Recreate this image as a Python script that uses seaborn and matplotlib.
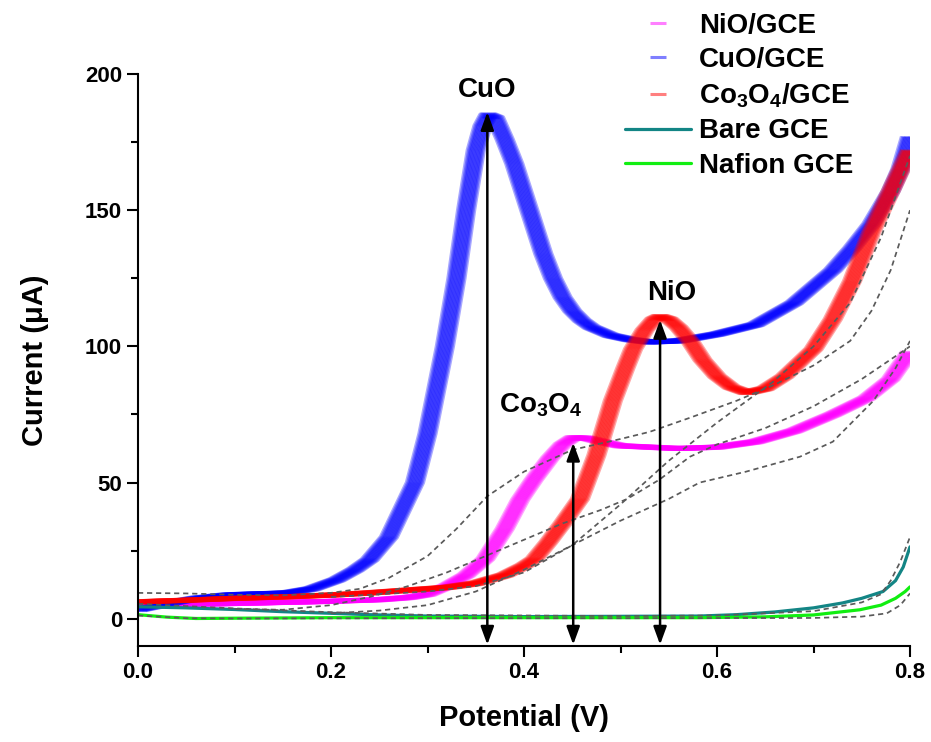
import numpy as np
import matplotlib
matplotlib.use("Agg")
import matplotlib.pyplot as plt
import seaborn as sns
from matplotlib import patheffects as pe
from matplotlib.lines import Line2D
from matplotlib.ticker import MultipleLocator

# ---------------- data ----------------
x_nio = [0, 0.05, 0.1, 0.15, 0.2, 0.25, 0.28, 0.3, 0.32, 0.34, 0.36, 0.38, 0.396, 0.41, 0.427,
         0.44, 0.451, 0.465, 0.48, 0.5, 0.53, 0.56, 0.6, 0.64, 0.68, 0.72, 0.755, 0.78, 0.8]
y_nio = [5.1, 5.3, 5.6, 6.0, 6.4, 7.0, 7.8, 9.0, 12, 16, 22, 33, 43.7, 51, 59,
         64, 66.5, 66.3, 65, 63.5, 63, 62.5, 63, 65, 69, 75, 81, 88, 98]

x_cuo = [0, 0.03, 0.06, 0.095, 0.13, 0.155, 0.18, 0.206, 0.225, 0.24, 0.26, 0.287, 0.3, 0.318,
         0.33, 0.34, 0.35, 0.357, 0.363, 0.37, 0.38, 0.39, 0.40, 0.41, 0.42, 0.43, 0.44, 0.45,
         0.46, 0.47, 0.49, 0.51, 0.53, 0.56, 0.6, 0.64, 0.68, 0.72, 0.74, 0.76, 0.78, 0.79, 0.8]
y_cuo = [3.3, 5.5, 7.5, 8.8, 9.2, 9.5, 11, 14.3, 18, 21.7, 30, 50, 68, 100,
         125, 150, 172, 181, 185, 184, 176, 167, 156, 145, 134, 125, 118, 113,
         109.5, 107, 104, 102.5, 101.6, 102, 104.5, 108, 116, 128, 136, 145, 157, 165, 177]

x_co3o4 = [0, 0.05, 0.1, 0.15, 0.2, 0.24, 0.28, 0.32, 0.35, 0.38, 0.40, 0.411, 0.425, 0.44,
           0.458, 0.475, 0.492, 0.505, 0.513, 0.525, 0.535, 0.541, 0.55, 0.56, 0.572, 0.585,
           0.6, 0.615, 0.631, 0.65, 0.67, 0.7, 0.72, 0.74, 0.76, 0.78, 0.8]
y_co3o4 = [6.2, 6.8, 7.5, 8.0, 8.7, 9.5, 10.5, 11.5, 13, 16, 19.5, 22, 28, 35,
           44, 60, 80, 92, 99, 106, 110, 111, 110, 107, 102, 95,
           89, 85, 83, 84.5, 89, 99, 110, 124, 142, 157, 172]

x_bare = [0, 0.05, 0.1, 0.15, 0.2, 0.24, 0.3, 0.4, 0.5, 0.582, 0.62, 0.66, 0.7, 0.73, 0.75,
          0.772, 0.785, 0.793, 0.8]
y_bare = [4.4, 4.0, 3.4, 2.6, 2.0, 1.5, 1.0, 0.8, 0.9, 1.0, 1.5, 2.5, 4.0, 5.8, 7.5,
          10, 14, 19, 26.4]

x_nafion = [0, 0.03, 0.06, 0.1, 0.2, 0.3, 0.4, 0.5, 0.582, 0.65, 0.7, 0.748, 0.77, 0.785, 0.795, 0.8]
y_nafion = [1.5, 0.6, 0.1, 0.2, 0.4, 0.4, 0.4, 0.4, 0.4, 0.7, 1.4, 3.3, 5, 7.5, 10, 11.7]

# grey dashed reference curves
x_d_bare = [0, 0.1, 0.2, 0.3, 0.5, 0.6, 0.7, 0.75, 0.77, 0.78, 0.79, 0.8]
y_d_bare = [5.5, 3.8, 2.4, 1.4, 1.0, 1.2, 2.8, 6, 9, 14, 21, 30]
x_d_naf = [0, 0.05, 0.1, 0.3, 0.5, 0.7, 0.75, 0.776, 0.79, 0.8]
y_d_naf = [1.2, 0.2, 0.1, 0.2, 0.2, 0.3, 0.8, 2, 5, 9.3]
x_d1 = [0, 0.05, 0.1, 0.15, 0.2, 0.23, 0.26, 0.3, 0.33, 0.362, 0.4, 0.45, 0.5, 0.53, 0.572,
        0.62, 0.66, 0.7, 0.738, 0.76, 0.78, 0.8]
y_d1 = [9.5, 9.3, 8.8, 8.6, 9.5, 11, 15, 23, 33, 45, 54, 62, 66, 68.6, 73.8,
        80, 86, 93, 102, 113, 128, 150]
x_d2 = [0.1, 0.15, 0.2, 0.24, 0.28, 0.32, 0.36, 0.4, 0.44, 0.48, 0.507, 0.54, 0.572, 0.6,
        0.65, 0.7, 0.75, 0.8]
y_d2 = [3.6, 3.3, 5, 8, 12, 17, 23, 29, 35, 40, 44, 51, 59.5, 64, 70, 78, 88, 100]
x_d3 = [0.2, 0.25, 0.3, 0.35, 0.4, 0.45, 0.5, 0.55, 0.582, 0.63, 0.686, 0.72, 0.762, 0.785, 0.8]
y_d3 = [2, 3, 5, 10, 18, 27, 36, 44, 50, 54, 59.5, 65, 80, 92, 102]
x_d4 = [0.2, 0.3, 0.35, 0.4, 0.45, 0.5, 0.55, 0.6, 0.658, 0.7, 0.738, 0.77, 0.8]
y_d4 = [8, 10, 12, 17, 27, 42, 58, 72, 87, 100, 116, 140, 170]

labels = ["NiO/GCE", "CuO/GCE", r"Co$_\mathbf{3}$O$_\mathbf{4}$/GCE", "Bare GCE", "Nafion GCE"]
peak_labels = ["CuO", r"Co$_\mathbf{3}$O$_\mathbf{4}$", "NiO"]
peak_x = [0.362, 0.451, 0.541]
peak_y = [186, 64.6, 109.7]
x_ticks = [0.0, 0.2, 0.4, 0.6, 0.8]
x_ticklabels = ["0.0", "0.2", "0.4", "0.6", "0.8"]
y_ticks = [0, 50, 100, 150, 200]
y_ticklabels = ["0", "50", "100", "150", "200"]

# ---------------- style ----------------
sns.set_theme(style="ticks")
plt.rcParams["font.family"] = ["Liberation Sans", "DejaVu Sans"]
plt.rcParams["font.weight"] = "bold"
plt.rcParams["text.color"] = "black"
plt.rcParams["axes.labelcolor"] = "black"
plt.rcParams["xtick.color"] = "black"
plt.rcParams["ytick.color"] = "black"
plt.rcParams["mathtext.fontset"] = "custom"
plt.rcParams["mathtext.rm"] = "Liberation Sans:bold"
plt.rcParams["mathtext.bf"] = "Liberation Sans:bold"
plt.rcParams["mathtext.it"] = "Liberation Sans:bold"

c_nio, c_cuo, c_co = "#ff00ff", "#0000ff", "#ff0000"
c_bare, c_naf = "#138585", "#11ee11"

fig = plt.figure(figsize=(9.31, 7.42), dpi=100)
ax = fig.add_axes([138 / 931, 1 - 646 / 742, (910 - 138) / 931, (646 - 74) / 742])


def band(x, y, color):
    sns.lineplot(x=x, y=y, ax=ax, color=color, lw=3.6, sort=False, estimator=None, legend=False)
    line = ax.lines[-1]
    offs = np.arange(-5.5, 5.51, 1.0)
    line.set_path_effects([pe.Stroke(offset=(o, 0), alpha=0.34) for o in offs])
    line.set_solid_capstyle("butt")


def thin(x, y, color, lw):
    sns.lineplot(x=x, y=y, ax=ax, color=color, lw=lw, sort=False, estimator=None, legend=False)


def dashed(x, y):
    sns.lineplot(x=x, y=y, ax=ax, color="#5a5a5a", lw=1.25, sort=False, estimator=None, legend=False)
    ax.lines[-1].set_dashes([3, 2.2])


band(x_nio, y_nio, c_nio)
band(x_cuo, y_cuo, c_cuo)
band(x_co3o4, y_co3o4, c_co)
thin(x_bare, y_bare, c_bare, 2.3)
thin(x_nafion, y_nafion, c_naf, 2.3)
for xs, ys in [(x_d_bare, y_d_bare), (x_d_naf, y_d_naf), (x_d1, y_d1),
               (x_d2, y_d2), (x_d3, y_d3), (x_d4, y_d4)]:
    dashed(xs, ys)

# arrows and peak labels
for px, py in zip(peak_x, peak_y):
    ax.annotate("", xy=(px, py), xytext=(px, -9.5),
                arrowprops=dict(arrowstyle="<|-|>,head_length=0.6,head_width=0.22",
                                color="black", lw=1.8, mutation_scale=18,
                                shrinkA=0, shrinkB=0))
ax.text(0.362, 194, peak_labels[0], ha="center", va="center", fontsize=20, fontweight="bold")
ax.text(0.417, 78.5, peak_labels[1], ha="center", va="center", fontsize=20, fontweight="bold")
ax.text(0.553, 119.6, peak_labels[2], ha="center", va="center", fontsize=20, fontweight="bold")

# axes
ax.set_xlim(0, 0.8)
ax.set_ylim(-10, 200)
ax.set_xticks(x_ticks)
ax.set_xticklabels(x_ticklabels)
ax.set_yticks(y_ticks)
ax.set_yticklabels(y_ticklabels)
ax.xaxis.set_minor_locator(MultipleLocator(0.1))
ax.yaxis.set_minor_locator(MultipleLocator(25))
ax.tick_params(which="major", direction="out", length=8, width=1.5, labelsize=16, color="black")
ax.tick_params(which="minor", direction="out", length=5, width=1.5, color="black")
for side in ["top", "right"]:
    ax.spines[side].set_visible(False)
for side in ["left", "bottom"]:
    ax.spines[side].set_linewidth(1.5)
    ax.spines[side].set_color("black")
ax.set_xlabel("Potential (V)", fontsize=21, fontweight="bold", labelpad=15)
ax.set_ylabel("Current (μA)", fontsize=21, fontweight="bold", labelpad=26)

# legend
handles = [
    Line2D([], [], color=c_nio, marker="_", markersize=11, mew=2.2, alpha=0.5, linestyle="None"),
    Line2D([], [], color=c_cuo, marker="_", markersize=11, mew=2.2, alpha=0.5, linestyle="None"),
    Line2D([], [], color=c_co, marker="_", markersize=11, mew=2.2, alpha=0.5, linestyle="None"),
    Line2D([], [], color=c_bare, lw=2.3),
    Line2D([], [], color=c_naf, lw=2.3),
]
fig.legend(handles, labels, loc="upper left", bbox_to_anchor=(606 / 931, 1.009),
           frameon=False, handlelength=2.35, handletextpad=0.3,
           labelspacing=0.3, borderpad=0.2, prop={"weight": "bold", "size": 20})

fig.savefig("out.png", dpi=100)
